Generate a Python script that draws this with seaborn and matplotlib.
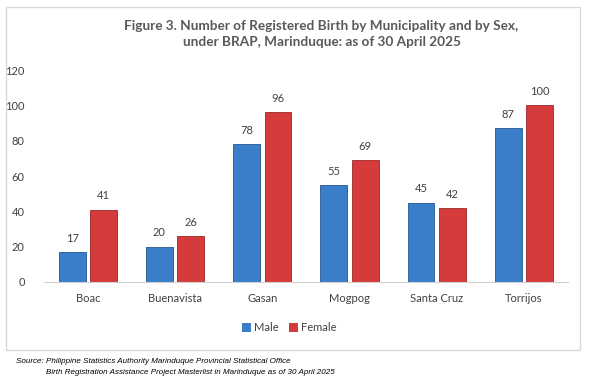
import matplotlib
matplotlib.use("Agg")
import matplotlib.pyplot as plt
import seaborn as sns
import pandas as pd
from matplotlib.patches import Rectangle

municipalities = ["Boac", "Buenavista", "Gasan", "Mogpog", "Santa Cruz", "Torrijos"]
male = [17, 20, 78, 55, 45, 87]
female = [41, 26, 96, 69, 42, 100]
yticks = [0, 20, 40, 60, 80, 100, 120]

df = pd.DataFrame({
    "Municipality": municipalities * 2,
    "Sex": ["Male"] * len(male) + ["Female"] * len(female),
    "Count": male + female,
})

sns.set_theme(style="white")
plt.rcParams["font.family"] = ["Lato", "DejaVu Sans"]

fig = plt.figure(figsize=(5.9, 3.77), dpi=100)
ax = fig.add_axes([0.075, 0.252, 0.887, 0.562])

sns.barplot(data=df, x="Municipality", y="Count", hue="Sex",
            palette={"Male": "#3A7DC9", "Female": "#D63B3B"}, saturation=1,
            width=0.72, gap=0.15, edgecolor=None, linewidth=0, ax=ax)

edge = {"Male": "#24578F", "Female": "#9A2626"}
for cont, sex in zip(ax.containers, ["Male", "Female"]):
    for p in cont:
        p.set_edgecolor(edge[sex])
        p.set_linewidth(0.6)
    ax.bar_label(cont, padding=6, fontsize=8, color="#404040")

ax.set_ylim(0, 120)
ax.set_yticks(yticks)
ax.set_xlim(-0.5, 5.5)
ax.set_xlabel("")
ax.set_ylabel("")
ax.tick_params(axis="y", length=0, pad=14, labelsize=8, labelcolor="#404040")
ax.tick_params(axis="x", length=0, pad=8, labelsize=8, labelcolor="#404040")
for s in ["top", "right", "left"]:
    ax.spines[s].set_visible(False)
ax.spines["bottom"].set_color("#D0D0D0")
ax.spines["bottom"].set_linewidth(0.8)

leg = ax.get_legend()
handles = leg.legend_handles
leg.remove()
fig.legend(handles, ["Male", "Female"], loc="center", bbox_to_anchor=(0.49, 0.13),
           ncol=2, frameon=False, fontsize=8, handlelength=0.8, handleheight=0.8,
           handletextpad=0.3, columnspacing=0.9, labelcolor="#404040")

fig.text(0.545, 0.91, "Figure 3. Number of Registered Birth by Municipality and by Sex,\nunder BRAP, Marinduque: as of 30 April 2025",
         ha="center", va="center", fontsize=9.8, fontweight="bold", color="#595959",
         linespacing=1.4)

fig.patches.append(Rectangle((0.011, 0.071), 0.972, 0.911, transform=fig.transFigure,
                             fill=False, edgecolor="#D9D9D9", linewidth=1.0))

fig.text(0.027, 0.04, "Source: Philippine Statistics Authority Marinduque Provincial Statistical Office",
         fontsize=5.8, style="italic", color="black", family=["Liberation Sans", "DejaVu Sans"], va="center")
fig.text(0.078, 0.013, "Birth Registration Assistance Project Masterlist in Marinduque as of 30 April 2025",
         fontsize=5.8, style="italic", color="black", family=["Liberation Sans", "DejaVu Sans"], va="center")

fig.savefig("out.png", dpi=100)
